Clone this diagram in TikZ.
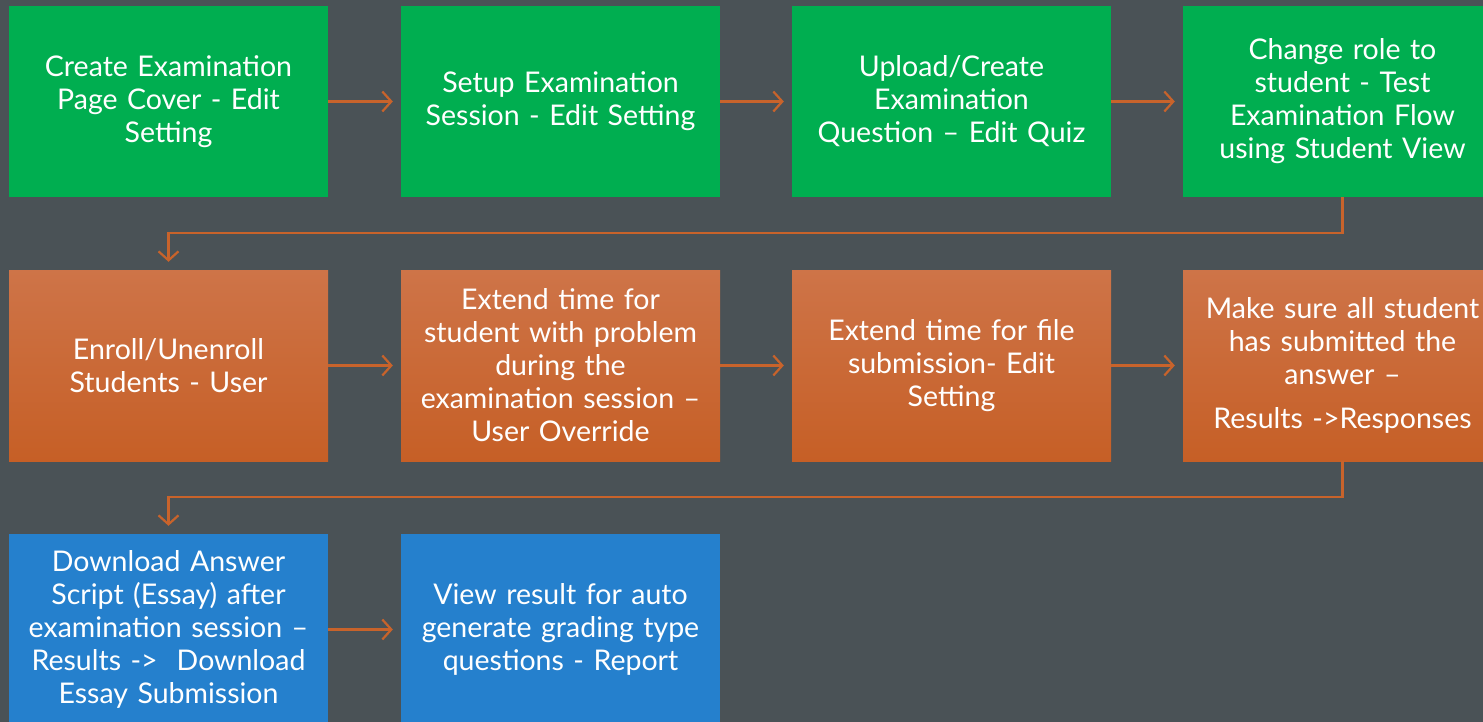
\documentclass[tikz,border=0pt]{standalone}
\usepackage{fontspec}
\setmainfont{Lato}
\usepackage{tikz}
\usetikzlibrary{positioning,calc,arrows.meta}
\definecolor{slate}{RGB}{74,82,86}
\definecolor{stepgreen}{RGB}{0,174,80}
\definecolor{stepblue}{RGB}{37,128,205}
\definecolor{orangetop}{RGB}{206,116,72}
\definecolor{orangebot}{RGB}{198,95,38}
\definecolor{flowline}{RGB}{200,99,43}
\tikzset{>={Straight Barb[length=9pt,width=20pt,line width=2.2pt]}}
\tikzset{
  stage/.style={minimum width=319pt,minimum height=191pt,text width=310pt,
    align=center,text=white,inner sep=0pt,font=\fontsize{28.5}{33}\selectfont},
  greenbox/.style={stage,fill=stepgreen},
  orangebox/.style={stage,top color=orangetop,bottom color=orangebot},
  bluebox/.style={stage,fill=stepblue},
  flow/.style={->,draw=flowline,line width=2.2pt,shorten >=8pt}
}

\begin{document}
\begin{tikzpicture}[x=1pt,y=-1pt]
\clip (0,0) rectangle (1483,722);
\fill[slate] (0,0) rectangle (1483,722);
% first row
\node[greenbox] (cover) at (168.5,101.5) {Create Examination\\Page Cover - Edit\\Setting};
\node[greenbox] (session) at (560.5,101.5) {Setup Examination\\Session - Edit Setting};
\node[greenbox] (question) at (951.5,101.5) {Upload/Create\\Examination\\Question – Edit Quiz};
\node[greenbox] (role) at (1342.5,101.5) {Change role to\\student - Test\\Examination Flow\\using Student View};
% second row
\node[orangebox] (enroll) at (168.5,365.5) {Enroll/Unenroll\\Students - User};
\node[orangebox] (override) at (560.5,365.5) {Extend time for\\student with problem\\during the\\examination session –\\User Override};
\node[orangebox] (filetime) at (951.5,365.5) {Extend time for file\\submission- Edit\\Setting};
\node[orangebox] (submitted) at (1342.5,365.5) {Make sure all student\\has submitted the\\answer –\\[11pt]Results ->Responses};
% third row
\node[bluebox] (download) at (168.5,629.5) {Download Answer\\Script (Essay) after\\examination session –\\Results ->~~Download\\Essay Submission};
\node[bluebox] (report) at (560.5,629.5) {View result for auto\\generate grading type\\questions - Report};
% connectors
\draw[flow] (cover) -- (session);
\draw[flow] (session) -- (question);
\draw[flow] (question) -- (role);
\draw[flow] (role.south) -- ++(0,36) -| (enroll.north);
\draw[flow] (enroll) -- (override);
\draw[flow] (override) -- (filetime);
\draw[flow] (filetime) -- (submitted);
\draw[flow] (submitted.south) -- ++(0,36) -| (download.north);
\draw[flow] (download) -- (report);
\end{tikzpicture}
\end{document}
